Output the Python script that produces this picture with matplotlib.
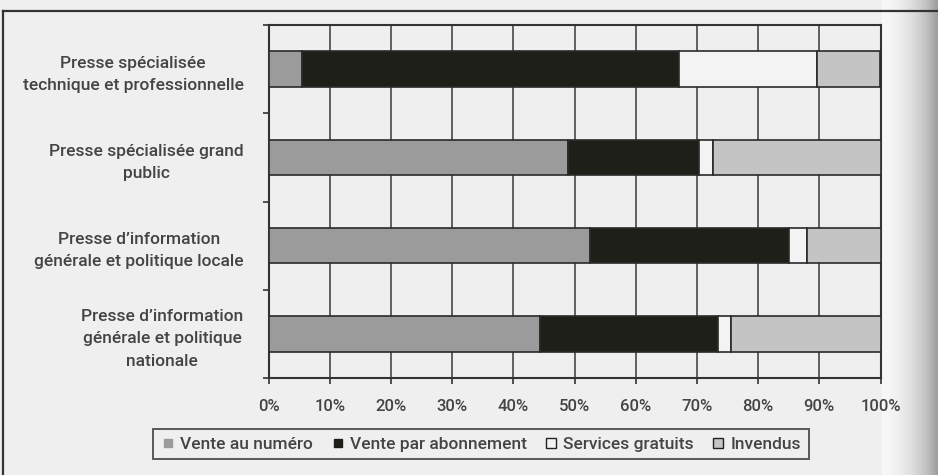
import matplotlib
matplotlib.use("Agg")
import matplotlib.pyplot as plt
import numpy as np
from matplotlib.lines import Line2D

plt.rcParams['font.family'] = ['Roboto', 'DejaVu Sans']
plt.rcParams['font.weight'] = 'medium'

categories = [
    "Presse spécialisée\ntechnique et professionnelle",
    "Presse spécialisée grand\npublic",
    "Presse d’information\ngénérale et politique locale",
    "Presse d’information\ngénérale et politique\nnationale",
]
vente_numero = [5.5, 49.0, 52.6, 44.4]
abonnement = [61.6, 21.4, 32.5, 29.0]
services = [22.6, 2.2, 2.9, 2.2]
invendus = [10.3, 27.4, 12.0, 24.4]

series = [
    ("Vente au numéro", vente_numero, "#9b9b9b"),
    ("Vente par abonnement", abonnement, "#1f1f1a"),
    ("Services gratuits", services, "#f3f3f3"),
    ("Invendus", invendus, "#c4c4c4"),
]

bg = "#efefef"
txt = "#444444"
fig = plt.figure(figsize=(9.38, 4.75), dpi=100, facecolor=bg)

# scan shading on the right edge
shade = fig.add_axes([0.94, 0, 0.06, 1], zorder=-5)
grad = np.linspace(0, 1, 60).reshape(1, -1) ** 1.5
shade.imshow(grad, aspect="auto", cmap="Greys", vmin=-0.15, vmax=2.2,
             extent=[0, 1, 0, 1])
shade.axis("off")

# outer frame of the chart
fig.add_artist(Line2D([3 / 938, 3 / 938], [0, 1 - 11 / 475], color="#333333", lw=1.6))
fig.add_artist(Line2D([3 / 938, 1], [1 - 11 / 475, 1 - 11 / 475], color="#333333", lw=1.6))

ax = fig.add_axes([268.5 / 938, 1 - 378 / 475, 612 / 938, 353 / 475])
ax.set_facecolor(bg)

y = np.arange(len(categories))
left = np.zeros(len(categories))
for name, vals, col in series:
    ax.barh(y, vals, left=left, height=0.4, color=col, edgecolor="#2a2a2a",
            linewidth=1.2, label=name, zorder=3)
    left += np.array(vals)

ax.set_xlim(0, 100)
ax.set_ylim(len(categories) - 0.5, -0.5)
ax.set_xticks(np.arange(0, 101, 10))
ax.set_xticklabels([f"{v}%" for v in range(0, 101, 10)], fontsize=12, color=txt)
ax.xaxis.grid(True, color="#555555", linewidth=1.3, zorder=1)
ax.set_axisbelow(True)

ax.set_yticks(np.arange(-0.5, len(categories), 1), minor=False)
ax.set_yticklabels([])
ax.set_yticks(y, minor=True)
ax.set_yticklabels(categories, minor=True, fontsize=12.5, color=txt,
                   multialignment="center", linespacing=1.6)
ax.tick_params(axis="y", which="minor", length=0, pad=18)
ax.tick_params(axis="y", which="major", length=4, width=1.2, color="#333333")
ax.tick_params(axis="x", length=4, width=1.2, color="#333333", pad=11)

for s in ax.spines.values():
    s.set_color("#333333")
    s.set_linewidth(1.5)

handles = [
    Line2D([], [], marker="s", linestyle="none", markersize=6,
           markerfacecolor="#9b9b9b", markeredgecolor="#9b9b9b"),
    Line2D([], [], marker="s", linestyle="none", markersize=6,
           markerfacecolor="#1f1f1a", markeredgecolor="#1f1f1a"),
    Line2D([], [], marker="s", linestyle="none", markersize=7,
           markerfacecolor="#f3f3f3", markeredgecolor="#222222"),
    Line2D([], [], marker="s", linestyle="none", markersize=7,
           markerfacecolor="#c4c4c4", markeredgecolor="#222222"),
]
leg = fig.legend(handles, [s[0] for s in series], loc="center",
                 bbox_to_anchor=(481 / 938, 1 - 444 / 475), ncol=4,
                 fontsize=12.5, frameon=True, fancybox=False,
                 handlelength=0.8, handletextpad=0.3, columnspacing=1.0,
                 borderpad=0.45)
leg.get_frame().set_edgecolor("#333333")
leg.get_frame().set_linewidth(1.4)
leg.get_frame().set_facecolor(bg)
for t in leg.get_texts():
    t.set_color(txt)

fig.savefig("out.png", dpi=100, facecolor=bg)
